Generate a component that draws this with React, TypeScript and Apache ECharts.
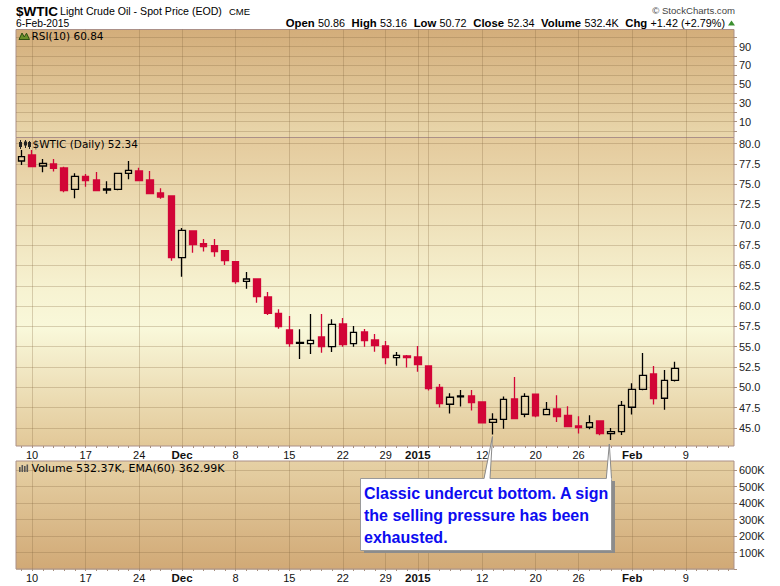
import { useEffect, useRef } from 'react';
import * as echarts from 'echarts';

// ---- data ----
const dates = [
  '2014-11-07', '2014-11-10', '2014-11-11', '2014-11-12', '2014-11-13', '2014-11-14',
  '2014-11-17', '2014-11-18', '2014-11-19', '2014-11-20', '2014-11-21',
  '2014-11-24', '2014-11-25', '2014-11-26', '2014-11-28',
  '2014-12-01', '2014-12-02', '2014-12-03', '2014-12-04', '2014-12-05',
  '2014-12-08', '2014-12-09', '2014-12-10', '2014-12-11', '2014-12-12',
  '2014-12-15', '2014-12-16', '2014-12-17', '2014-12-18', '2014-12-19',
  '2014-12-22', '2014-12-23', '2014-12-24', '2014-12-26',
  '2014-12-29', '2014-12-30', '2014-12-31', '2015-01-02',
  '2015-01-05', '2015-01-06', '2015-01-07', '2015-01-08', '2015-01-09',
  '2015-01-12', '2015-01-13', '2015-01-14', '2015-01-15', '2015-01-16',
  '2015-01-20', '2015-01-21', '2015-01-22', '2015-01-23',
  '2015-01-26', '2015-01-27', '2015-01-28', '2015-01-29', '2015-01-30',
  '2015-02-02', '2015-02-03', '2015-02-04', '2015-02-05', '2015-02-06',
  '2015-02-09', '2015-02-10', '2015-02-11', '2015-02-12', '2015-02-13',
];

const opens = [
  77.85, 78.59, 77.23, 77.48, 76.99, 74.36, 75.96, 75.51, 74.28, 74.36, 76.33,
  76.62, 75.51, 73.91, 73.54, 65.96, 69.24, 67.68, 67.43, 66.82,
  65.47, 63.05, 63.33, 61.12, 59.11, 57.06, 55.40, 55.38, 56.20, 55.01,
  57.80, 55.38, 56.81, 55.83, 55.09, 53.66, 53.86, 53.74,
  52.63, 50.01, 47.92, 48.82, 48.94, 48.20, 45.70, 46.07, 48.57, 46.69,
  49.15, 46.65, 47.34, 46.56, 45.25, 45.09, 45.87, 44.31, 44.55,
  47.55, 49.76, 51.65, 48.66, 50.86,
];
const closes = [
  78.38, 77.15, 77.56, 76.95, 74.20, 75.96, 75.43, 74.20, 74.40, 76.33, 76.70,
  75.43, 73.83, 73.42, 65.96, 69.32, 67.56, 67.31, 66.70, 65.59,
  63.00, 63.33, 61.16, 59.11, 57.47, 55.38, 55.52, 55.79, 55.01, 57.76,
  55.26, 56.77, 55.75, 55.13, 53.66, 53.94, 53.66, 52.80,
  49.84, 48.00, 48.78, 48.94, 48.12, 45.62, 46.07, 48.53, 46.15, 48.90,
  46.48, 47.30, 46.40, 45.17, 45.05, 45.66, 44.31, 44.55, 47.79,
  49.76, 51.48, 48.61, 50.87, 52.34,
];
const lows = [
  77.36, 77.07, 76.45, 76.54, 73.99, 73.26, 74.69, 74.12, 73.83, 74.24, 75.59,
  75.43, 73.75, 73.21, 65.59, 63.62, 66.57, 66.70, 66.08, 65.06,
  62.76, 62.14, 60.42, 58.91, 57.22, 55.01, 53.49, 54.11, 54.27, 54.35,
  55.01, 55.01, 55.01, 54.39, 52.84, 52.67, 52.43, 51.93,
  49.60, 47.51, 46.77, 47.63, 47.14, 45.54, 44.19, 44.92, 46.07, 46.32,
  46.32, 46.61, 45.74, 45.10, 44.31, 44.84, 44.10, 43.53, 44.14,
  46.65, 49.64, 47.88, 47.26, 50.72,
];
const highs = [
  79.20, 79.20, 78.09, 78.09, 77.15, 76.33, 76.25, 76.49, 75.35, 76.40, 77.85,
  77.03, 76.62, 74.49, 73.54, 69.61, 69.32, 68.25, 68.25, 66.90,
  65.55, 64.19, 63.42, 61.74, 59.62, 58.78, 57.14, 59.03, 59.03, 58.37,
  58.54, 57.55, 57.18, 56.57, 55.71, 54.35, 53.99, 55.09,
  52.71, 50.42, 49.27, 49.68, 49.68, 48.25, 46.81, 48.86, 51.28, 49.27,
  49.20, 48.20, 49.02, 47.67, 46.44, 46.56, 45.90, 45.01, 48.33,
  50.50, 54.23, 52.63, 52.14, 53.16,
];

const tickDates = [
  '2014-11-10', '2014-11-17', '2014-11-24', '2014-12-01', '2014-12-08', '2014-12-15',
  '2014-12-22', '2014-12-29', '2015-01-02', '2015-01-12', '2015-01-20', '2015-01-26',
  '2015-02-02', '2015-02-09',
];
const tickLabels = ['10', '17', '24', 'Dec', '8', '15', '22', '29', '2015', '12', '20', '26', 'Feb', '9'];
const boldLabels = ['Dec', '2015', 'Feb'];
const gridDates = [...tickDates, '2015-01-05'];

const rsiLabels = [10, 30, 50, 70, 90];

const FONT = 'Liberation Sans';
const LEG = 'DejaVu Sans';
const gridColor = 'rgba(130,100,60,0.28)';
const borderColor = '#ab9088';
const noteColor = '#0c0cf0';

function grad(stops: [number, string][]) {
  return new echarts.graphic.LinearGradient(0, 0, 0, 1, stops.map(([offset, color]) => ({ offset, color })));
}

export default function App() {
  const ref = useRef<HTMLDivElement>(null);
  useEffect(() => {
    const chart = echarts.init(ref.current!, null, { renderer: 'svg' });
    const left = 16;
    const width = 718;

    const frameX = (showLabels: boolean) => ({
      type: 'category' as const,
      data: dates,
      boundaryGap: true,
      axisLine: { show: false },
      axisTick: showLabels
        ? { show: true, interval: 0, alignWithLabel: true, length: 2, lineStyle: { color: '#a89080' } }
        : { show: false },
      axisLabel: showLabels
        ? {
            show: true,
            interval: (_i: number, v: string) => tickDates.includes(v),
            margin: 3,
            fontFamily: FONT,
            fontSize: 11,
            color: '#111',
            formatter: (v: string) => {
              const t = tickLabels[tickDates.indexOf(v)];
              return boldLabels.includes(t) ? `{b|${t}}` : t;
            },
            rich: { b: { fontFamily: FONT, fontSize: 11.5, fontWeight: 'bold', color: '#111' } },
          }
        : { show: false },
      splitLine: {
        show: true,
        alignWithLabel: true,
        interval: (_i: number, v: string) => gridDates.includes(v),
        lineStyle: { color: gridColor, width: 1 },
      },
    });
    const hiddenX = { type: 'category' as const, data: dates, boundaryGap: true, show: false };
    const hiddenY = { type: 'value' as const, min: 0, max: 1, show: false };
    const valueY = (min: number, max: number, interval: number, formatter: (v: number) => string) => ({
      type: 'value' as const,
      position: 'right' as const,
      min,
      max,
      interval,
      axisLine: { show: false },
      axisTick: { show: true, length: 3, lineStyle: { color: '#a89080' } },
      axisLabel: { margin: 5, fontFamily: FONT, fontSize: 11, color: '#222', formatter },
      splitLine: { show: true, lineStyle: { color: gridColor, width: 1 } },
    });

    const txt = (x: number, y: number, text: string, font: any, extra: any = {}, z = 100) => ({
      type: 'text',
      x,
      y,
      z,
      style: { text, fill: '#000', verticalAlign: 'middle', ...font, ...extra },
    });
    const note = { fontFamily: FONT, fontSize: 16, fontWeight: 'bold', fill: noteColor };

    const option: any = {
      animation: false,
      backgroundColor: '#ffffff',
      grid: [
        {
          left, width, top: 29.5, height: 108, show: true,
          backgroundColor: grad([[0, '#d3ad7a'], [1, '#e9d7ac']]),
          borderColor, borderWidth: 1,
        },
        { left, width, top: 37.3, height: 93.8 },
        {
          left, width, top: 137.5, height: 308.5, show: true,
          backgroundColor: grad([[0, '#e4ca9c'], [0.5, '#f7f3d2'], [0.62, '#f9f8da'], [1, '#e2c898']]),
          borderColor, borderWidth: 1,
        },
        { left, width, top: 143.5, height: 284.5 },
        {
          left, width, top: 461, height: 108, show: true,
          backgroundColor: grad([[0, '#e6d1a5'], [1, '#d1a976']]),
          borderColor, borderWidth: 1,
        },
        { left, width, top: 470, height: 99 },
      ],
      xAxis: [
        { ...frameX(false), gridIndex: 0 },
        { ...hiddenX, gridIndex: 1 },
        { ...frameX(true), gridIndex: 2 },
        { ...hiddenX, gridIndex: 3 },
        { ...frameX(true), gridIndex: 4 },
        { ...hiddenX, gridIndex: 5 },
      ],
      yAxis: [
        { ...hiddenY, gridIndex: 0 },
        { ...valueY(0, 100, 10, (v) => (rsiLabels.includes(v) ? String(v) : '')), gridIndex: 1 },
        { ...hiddenY, gridIndex: 2 },
        { ...valueY(45, 80, 2.5, (v) => v.toFixed(1)), gridIndex: 3 },
        { ...hiddenY, gridIndex: 4 },
        { ...valueY(0, 600000, 100000, (v) => (v === 0 ? '' : `${v / 1000}K`)), gridIndex: 5 },
      ],
      series: [
        {
          type: 'candlestick',
          xAxisIndex: 3,
          yAxisIndex: 3,
          clip: false,
          barWidth: 7,
          data: opens.map((o, i) => [o, closes[i], lows[i], highs[i]]),
          itemStyle: {
            color: 'rgba(0,0,0,0)',
            color0: '#d20537',
            borderColor: '#000000',
            borderColor0: '#d20537',
            borderWidth: 1.3,
          },
        },
      ],
      graphic: [
        // header
        txt(16, 11, '$WTIC', { fontFamily: FONT, fontSize: 13.5, fontWeight: 'bold' }),
        txt(60, 11.3, 'Light Crude Oil - Spot Price (EOD)', { fontFamily: FONT, fontSize: 10.6 }),
        txt(229, 11.5, 'CME', { fontFamily: FONT, fontSize: 9.5 }),
        txt(16, 23, '6-Feb-2015', { fontFamily: FONT, fontSize: 10.3 }),
        txt(735, 10.5, '\u00A9 StockCharts.com', { fontFamily: FONT, fontSize: 9.6, fill: '#444' }, { align: 'right' }),
        {
          type: 'text',
          x: 725,
          y: 23,
          z: 100,
          style: {
            text:
              '{b|Open} {r|50.86}  {b|High} {r|53.16}  {b|Low} {r|50.72}  {b|Close} {r|52.34}  {b|Volume} {r|532.4K}  {b|Chg} {r|+1.42 (+2.79%)}',
            align: 'right',
            verticalAlign: 'middle',
            fill: '#000',
            rich: {
              b: { fontFamily: FONT, fontSize: 11.3, fontWeight: 'bold', fill: '#000' },
              r: { fontFamily: FONT, fontSize: 10.8, fill: '#000' },
            },
          },
        },
        {
          type: 'polygon', z: 100,
          shape: { points: [[728, 25.5], [731.5, 20.5], [735, 25.5]] },
          style: { fill: '#3b8f2f' },
        },
        // panel legends
        {
          type: 'polygon', z: 100,
          shape: { points: [[19, 39.5], [22, 33], [24.3, 37], [26.5, 33.2], [29.5, 39.5]] },
          style: { fill: '#6a8f2a', stroke: '#2f4f12', lineWidth: 1 },
        },
        txt(31.5, 36.3, 'RSI(10) 60.84', { fontFamily: LEG, fontSize: 10.5 }),
        { type: 'line', z: 100, shape: { x1: 20.5, y1: 140, x2: 20.5, y2: 149 }, style: { stroke: '#222', lineWidth: 1 } },
        { type: 'rect', z: 100, shape: { x: 19, y: 142, width: 3, height: 5 }, style: { fill: '#222' } },
        { type: 'line', z: 100, shape: { x1: 25.5, y1: 140, x2: 25.5, y2: 148 }, style: { stroke: '#222', lineWidth: 1 } },
        { type: 'rect', z: 100, shape: { x: 24, y: 141.5, width: 3, height: 4 }, style: { fill: '#222' } },
        { type: 'line', z: 100, shape: { x1: 29.5, y1: 141, x2: 29.5, y2: 149 }, style: { stroke: '#222', lineWidth: 1 } },
        { type: 'rect', z: 100, shape: { x: 28, y: 142, width: 3, height: 5 }, style: { fill: '#222' } },
        txt(32.5, 144.3, '$WTIC (Daily) 52.34', { fontFamily: LEG, fontSize: 10.5 }),
        { type: 'rect', z: 100, shape: { x: 19, y: 467, width: 1.6, height: 5 }, style: { fill: '#555' } },
        { type: 'rect', z: 100, shape: { x: 21.5, y: 465, width: 1.6, height: 7 }, style: { fill: '#555' } },
        { type: 'rect', z: 100, shape: { x: 24, y: 466, width: 1.6, height: 6 }, style: { fill: '#555' } },
        { type: 'rect', z: 100, shape: { x: 26.5, y: 464.5, width: 1.6, height: 7.5 }, style: { fill: '#555' } },
        txt(31.5, 468.8, 'Volume 532.37K, EMA(60) 362.99K', { fontFamily: LEG, fontSize: 11 }),
        // annotation
        { type: 'rect', z: 110, shape: { x: 364, y: 481, width: 251, height: 72 }, style: { fill: '#8c8c8c' } },
        { type: 'rect', z: 111, shape: { x: 360.5, y: 478.5, width: 251, height: 72 }, style: { fill: '#ffffff', stroke: '#9a9a9a', lineWidth: 1 } },
        { type: 'polygon', z: 112, shape: { points: [[484, 479.6], [492.5, 436.5], [490, 479.6]] }, style: { fill: '#ffffff' } },
        { type: 'polyline', z: 113, shape: { points: [[484, 478.5], [492.5, 436.5], [490, 478.5]] }, style: { stroke: '#8a8a8a', lineWidth: 1, fill: null } },
        { type: 'polygon', z: 112, shape: { points: [[606.3, 479.6], [609.3, 444], [611.5, 479.6]] }, style: { fill: '#ffffff' } },
        { type: 'polyline', z: 113, shape: { points: [[606.3, 478.5], [609.3, 444], [611.5, 478.5]] }, style: { stroke: '#8a8a8a', lineWidth: 1, fill: null } },
        txt(364, 493.2, 'Classic undercut bottom. A sign', note, {}, 120),
        txt(364, 515.5, 'the selling pressure has been', note, {}, 120),
        txt(364, 537.4, 'exhausted.', note, {}, 120),
      ],
    };
    chart.setOption(option);
    return () => chart.dispose();
  }, []);
  return <div ref={ref} style={{ position: 'fixed', left: 0, top: 0, width: 780, height: 586 }} />;
}
